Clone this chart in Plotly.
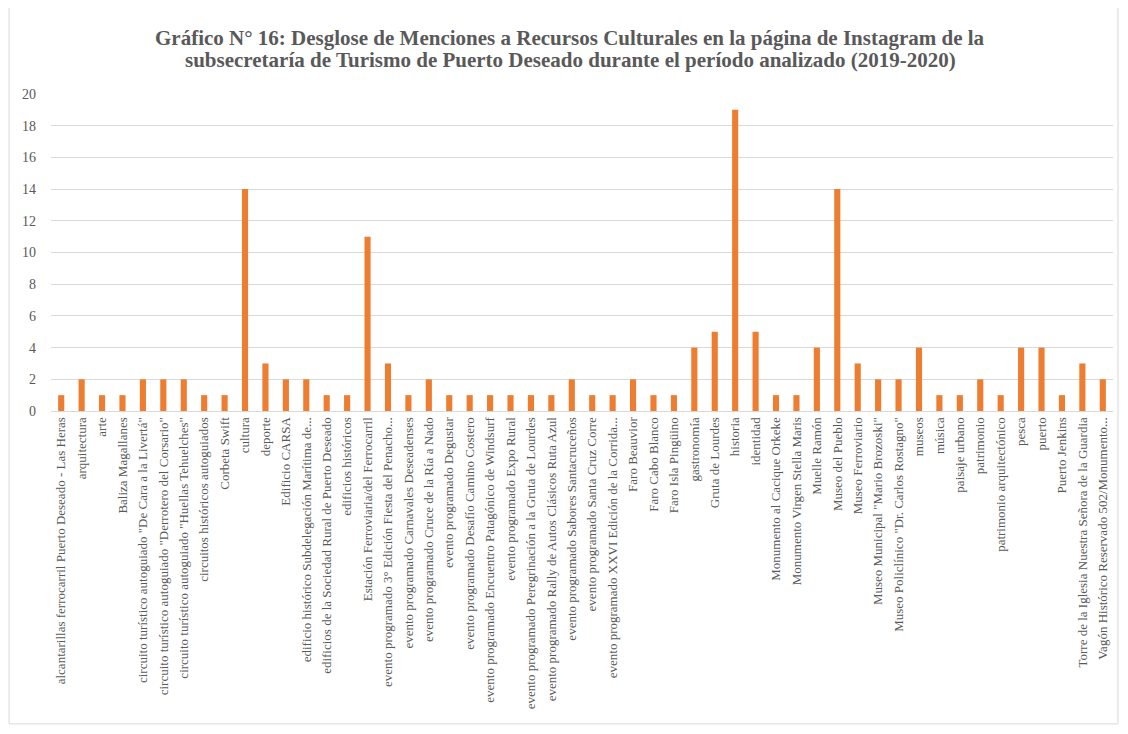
import plotly.graph_objects as go

categories = [
    'alcantarillas ferrocarril Puerto Deseado - Las Heras',
    'arquitectura',
    'arte',
    'Baliza Magallanes',
    'circuito turístico autoguiado "De Cara a la Livertá"',
    'circuito turístico autoguiado "Derrotero del Corsario"',
    'circuito turístico autoguiado "Huellas Tehuelches"',
    'circuitos históricos autoguiados',
    'Corbeta Swift',
    'cultura',
    'deporte',
    'Edificio CARSA',
    'edificio histórico Subdelegación Marítima de...',
    'edificios de la Sociedad Rural de Puerto Deseado',
    'edificios históricos',
    'Estación Ferroviaria/del Ferrocarril',
    'evento programado 3° Edición Fiesta del Penacho...',
    'evento programado Carnavales Deseadenses',
    'evento programado Cruce de la Ría a Nado',
    'evento programado Degustar',
    'evento programado Desafío Camino Costero',
    'evento programado Encuentro Patagónico de Windsurf',
    'evento programado Expo Rural',
    'evento programado Peregrinación a la Gruta de Lourdes',
    'evento programado Rally de Autos Clásicos Ruta Azul',
    'evento programado Sabores Santacruceños',
    'evento programado Santa Cruz Corre',
    'evento programado XXVI Edición de la Corrida...',
    'Faro Beauvior',
    'Faro Cabo Blanco',
    'Faro Isla Pingüino',
    'gastronomía',
    'Gruta de Lourdes',
    'historia',
    'identidad',
    'Monumento al Cacique Orkeke',
    'Monumento Virgen Stella Maris',
    'Muelle Ramón',
    'Museo del Pueblo',
    'Museo Ferroviario',
    'Museo Municipal "Mario Brozoski"',
    'Museo Policlínico "Dr. Carlos Rostagno"',
    'museos',
    'música',
    'paisaje urbano',
    'patrimonio',
    'patrimonio arquitectónico',
    'pesca',
    'puerto',
    'Puerto Jenkins',
    'Torre de la Iglesia Nuestra Señora de la Guardia',
    'Vagón Histórico Reservado 502/Monumento...',
]
menciones = [1, 2, 1, 1, 2, 2, 2, 1, 1, 14,
             3, 2, 2, 1, 1, 11, 3, 1, 2, 1,
             1, 1, 1, 1, 1, 2, 1, 1, 2, 1,
             1, 4, 5, 19, 5, 1, 1, 4, 14, 3,
             2, 2, 4, 1, 1, 2, 1, 4, 4, 1,
             3, 2]
y_ticks = list(range(0, 21, 2))

TITLE_LINES = [
    "Gráfico N° 16: Desglose de Menciones a Recursos Culturales en la página de Instagram de la",
    "subsecretaría de Turismo de Puerto Deseado durante el período analizado (2019-2020)",
]

fig = go.Figure()
fig.add_trace(go.Bar(
    x=categories, y=menciones,
    marker=dict(color='#ED7D31', line=dict(width=0)),
    hoverinfo='x+y',
))

# page body has an 8px margin, so the figure is sized to fit inside the window
fig.update_layout(
    width=1112, height=718,
    paper_bgcolor='white', plot_bgcolor='white',
    font=dict(family='Liberation Serif', color='#595959'),
    margin=dict(l=43, r=7, t=86, b=315),
    bargap=0.7,
    showlegend=False,
    xaxis=dict(
        tickangle=-90, tickfont=dict(size=13, color='#595959'),
        showline=True, linecolor='#d9d9d9', linewidth=1,
        ticks='', automargin=False,
    ),
    yaxis=dict(
        range=[0, 20], tickvals=y_ticks,
        tickfont=dict(size=14, color='#595959'),
        gridcolor='#d9d9d9', gridwidth=1,
        zeroline=False, ticks='', automargin=False,
        ticklabelstandoff=14,
    ),
)

# title as two lines (tighter spacing than plotly's title)
for line, ypos in zip(TITLE_LINES, [1.1767, 1.1073]):
    fig.add_annotation(text="<b>" + line + "</b>", xref='paper', yref='paper',
                       x=0.489, y=ypos, xanchor='center', yanchor='middle',
                       showarrow=False,
                       font=dict(size=21, color='#595959', family='Liberation Serif'))

# outer chart border
fig.add_shape(type='rect', xref='paper', yref='paper',
              x0=-0.0395, y0=-0.987, x1=1.0047, y1=1.281,
              line=dict(color='#d9d9d9', width=1))

fig.write_html("out.html")
